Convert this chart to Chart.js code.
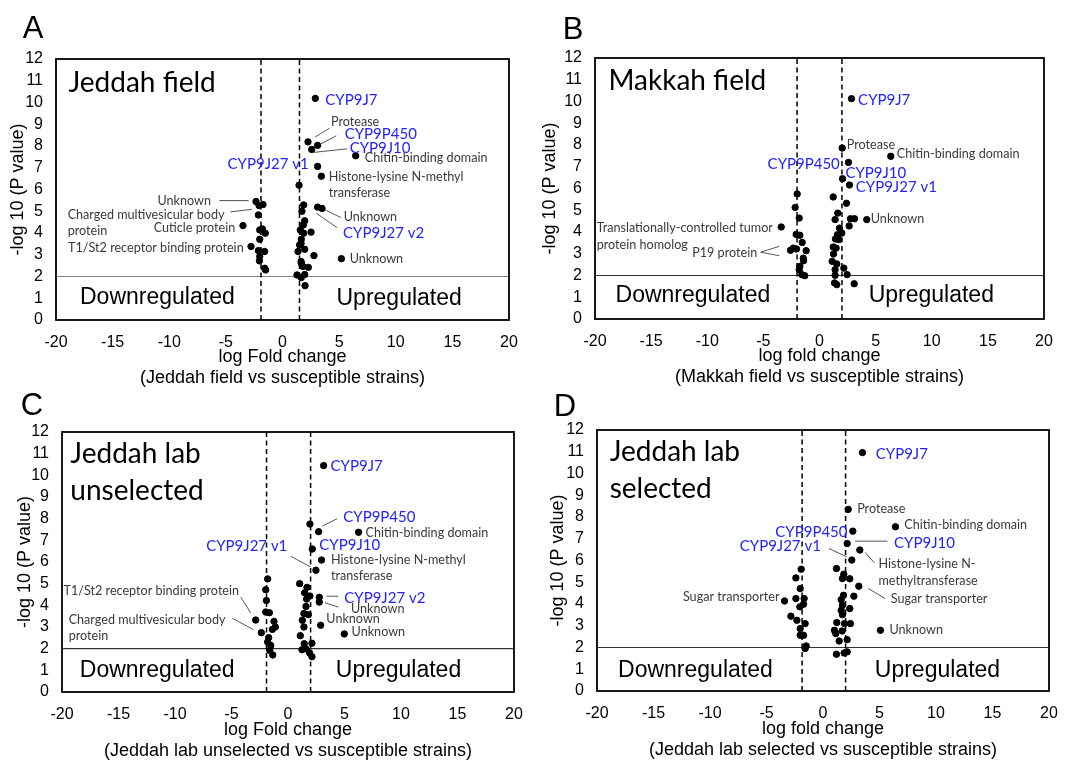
<!DOCTYPE html>
<html>
<head>
<meta charset="utf-8">
<script src="https://cdn.jsdelivr.net/npm/chart.js@4.4.1/dist/chart.umd.min.js"></script>
<style>
  body { margin: 0; background: #fff; width: 1084px; height: 762px; position: relative; overflow: hidden; }
  canvas { position: absolute; }
</style>
</head>
<body>
<canvas id="chartA" width="540" height="400" style="left:0px;top:0px"></canvas>
<canvas id="chartB" width="540" height="400" style="left:540px;top:0px"></canvas>
<canvas id="chartC" width="540" height="400" style="left:0px;top:362px"></canvas>
<canvas id="chartD" width="540" height="400" style="left:540px;top:362px"></canvas>
<script>
// [log fold change, -log10 p]
const jeddahFieldPoints = [
  [2.9, 10.19], [2.25, 8.19], [3.1, 8.03], [2.58, 7.84], [6.46, 7.55], [3.1, 7.06], [3.43, 6.61],
  [1.46, 6.2], [1.87, 5.29], [3.1, 5.19], [3.49, 5.13], [1.72, 5.0], [1.96, 4.56], [1.84, 4.37],
  [1.57, 4.14], [1.87, 3.99], [2.52, 4.04], [1.66, 3.71], [1.64, 3.53], [1.51, 3.45], [1.96, 3.25],
  [1.37, 3.15], [2.78, 2.96], [1.64, 2.69], [1.66, 2.61], [1.81, 2.46], [2.28, 2.42], [1.28, 2.07],
  [1.66, 1.95], [1.96, 2.09], [1.99, 1.58], [5.2, 2.82],
  [-2.34, 5.45], [-2.07, 5.26], [-1.72, 5.31], [-2.13, 4.83], [-3.49, 4.34], [-2.01, 4.14],
  [-1.78, 4.19], [-1.52, 3.99], [-2.01, 3.71], [-2.78, 3.38], [-2.13, 3.19], [-1.58, 3.15],
  [-2.01, 2.92], [-2.04, 2.72], [-1.58, 2.38], [-1.49, 2.3]
];
const makkahFieldPoints = [
  [2.85, 10.13], [2.02, 7.86], [6.35, 7.48], [2.58, 7.2], [2.05, 6.45], [2.67, 6.16], [1.22, 5.61],
  [2.4, 5.32], [1.63, 4.87], [1.39, 4.57], [2.76, 4.61], [3.12, 4.61], [4.21, 4.57], [2.64, 4.28],
  [1.78, 4.18], [1.99, 3.95], [1.6, 3.88], [1.42, 3.68], [1.72, 3.65], [1.22, 3.31], [1.48, 3.26],
  [1.25, 2.99], [1.13, 2.65], [1.54, 2.53], [2.17, 2.34], [1.39, 2.27], [2.46, 2.04], [1.39, 2.01],
  [1.34, 1.66], [1.54, 1.58], [3.09, 1.62],
  [-1.99, 5.75], [-2.17, 5.13], [-1.81, 4.64], [-3.41, 4.23], [-2.08, 3.89], [-1.75, 3.85],
  [-1.54, 3.52], [-2.34, 3.26], [-2.58, 3.16], [-2.05, 3.22], [-1.19, 3.14], [-1.45, 2.8],
  [-1.42, 2.68], [-1.75, 2.42], [-1.81, 2.27], [-1.57, 2.04], [-1.31, 1.99]
];
const labUnselectedPoints = [
  [3.15, 10.45], [1.94, 7.75], [2.71, 7.4], [6.24, 7.37], [2.15, 6.6], [2.97, 6.09], [2.47, 5.62],
  [1.03, 5.0], [1.68, 4.83], [1.47, 4.58], [1.94, 4.43], [1.65, 4.29], [2.77, 4.37], [2.77, 4.15],
  [1.59, 3.95], [1.41, 3.62], [1.8, 3.57], [1.27, 3.31], [1.41, 3.0], [2.89, 3.08], [4.98, 2.68],
  [1.09, 2.6], [1.44, 2.23], [2.12, 2.25], [1.24, 1.95], [1.59, 1.99], [1.91, 1.8], [2.12, 1.63],
  [-1.8, 5.22], [-1.97, 4.72], [-1.91, 4.22], [-1.97, 3.69], [-1.65, 3.66], [-2.86, 3.32],
  [-1.24, 3.26], [-1.12, 3.0], [-1.38, 2.89], [-2.36, 2.74], [-1.71, 2.51], [-1.8, 2.31],
  [-1.53, 2.15], [-1.62, 1.92], [-1.35, 1.71]
];
const labSelectedPoints = [
  [3.49, 10.96], [2.23, 8.35], [6.41, 7.55], [2.64, 7.35], [2.14, 6.78], [3.26, 6.48], [2.55, 6.02],
  [1.19, 5.63], [1.84, 5.37], [1.72, 5.17], [2.37, 5.16], [3.17, 4.82], [1.81, 4.4], [2.73, 4.36],
  [1.61, 4.2], [1.72, 3.94], [2.37, 3.79], [1.61, 3.71], [1.72, 3.51], [1.22, 3.15], [1.9, 3.1],
  [2.43, 3.1], [1.01, 2.79], [1.69, 2.76], [1.13, 2.64], [1.43, 2.3], [2.14, 2.36], [1.87, 1.75],
  [2.14, 1.8], [1.19, 1.69], [5.08, 2.79],
  [-1.93, 5.6], [-2.4, 5.2], [-2.02, 4.71], [-3.4, 4.14], [-2.4, 4.25], [-1.67, 4.25],
  [-2.05, 3.87], [-1.72, 3.99], [-2.84, 3.44], [-2.31, 3.25], [-1.58, 3.1], [-2.02, 2.87],
  [-2.02, 2.56], [-1.72, 2.56], [-1.49, 2.07], [-1.58, 1.95]
];

// fold change cut-offs (dashed) and p cut-off (solid)
const jeddahFieldCutoffs = [-1.9, 1.5];
const makkahFieldCutoffs = [-2, 2];
const labUnselectedCutoffs = [-1.9, 2];
const labSelectedCutoffs = [-1.85, 2];
const pCutoff = 2;

// [text, fold change, -log10 p, kind, align]
const jeddahFieldLabels = [
  ['Jeddah field', -18.9, 10.9, 'title'],
  ['Downregulated', -11.05, 1.03, 'region', 'center'],
  ['Upregulated', 10.3, 1.0, 'region', 'center'],
  ['CYP9J7', 3.78, 10.13, 'gene'],
  ['Protease', 4.28, 9.11, 'note'],
  ['CYP9P450', 5.49, 8.53, 'gene'],
  ['CYP9J10', 5.93, 7.92, 'gene'],
  ['Chitin-binding domain', 7.26, 7.43, 'note'],
  ['CYP9J27 v1', 2.31, 7.15, 'gene', 'right'],
  ['Histone-lysine N-methyl', 4.08, 6.57, 'note'],
  ['transferase', 4.08, 5.83, 'note'],
  ['Unknown', -6.32, 5.49, 'note', 'right'],
  ['Charged multivesicular body', -18.97, 4.85, 'note'],
  ['protein', -18.97, 4.1, 'note'],
  ['Cuticle protein', -4.17, 4.25, 'note', 'right'],
  ['T1/St2 receptor binding protein', -3.43, 3.3, 'note', 'right'],
  ['Unknown', 5.4, 4.74, 'note'],
  ['CYP9J27 v2', 5.35, 3.99, 'gene'],
  ['Unknown', 5.93, 2.82, 'note']
];
const makkahFieldLabels = [
  ['Makkah field', -18.8, 10.93, 'title'],
  ['Downregulated', -11.28, 1.07, 'region', 'center'],
  ['Upregulated', 9.96, 1.07, 'region', 'center'],
  ['CYP9J7', 3.44, 10.08, 'gene'],
  ['Protease', 2.43, 8.02, 'note'],
  ['Chitin-binding domain', 6.88, 7.6, 'note'],
  ['CYP9P450', 1.81, 7.14, 'gene', 'right'],
  ['CYP9J10', 2.31, 6.71, 'gene'],
  ['CYP9J27 v1', 3.23, 6.07, 'gene'],
  ['Unknown', 4.57, 4.6, 'note'],
  ['Translationally-controlled tumor', -19.85, 4.18, 'note'],
  ['protein homolog', -19.85, 3.42, 'note'],
  ['P19 protein', -5.55, 3.05, 'note', 'right']
];
const labUnselectedLabels = [
  ['Jeddah lab', -19.26, 10.97, 'title'],
  ['unselected', -19.26, 9.28, 'title'],
  ['Downregulated', -11.58, 1.0, 'region', 'center'],
  ['Upregulated', 9.78, 1.0, 'region', 'center'],
  ['CYP9J7', 3.77, 10.42, 'gene'],
  ['CYP9P450', 4.89, 8.06, 'gene'],
  ['Chitin-binding domain', 6.86, 7.35, 'note'],
  ['CYP9J10', 2.77, 6.8, 'gene'],
  ['CYP9J27 v1', -0.06, 6.74, 'gene', 'right'],
  ['Histone-lysine N-methyl', 3.8, 6.08, 'note'],
  ['transferase', 3.8, 5.34, 'note'],
  ['T1/St2 receptor binding protein', -4.33, 4.66, 'note', 'right'],
  ['Charged multivesicular body', -19.41, 3.34, 'note'],
  ['protein', -19.41, 2.6, 'note'],
  ['CYP9J27 v2', 4.98, 4.35, 'gene'],
  ['Unknown', 5.57, 3.83, 'note'],
  ['Unknown', 3.39, 3.35, 'note'],
  ['Unknown', 5.63, 2.77, 'note']
];
const labSelectedLabels = [
  ['Jeddah lab', -18.88, 10.97, 'title'],
  ['selected', -18.88, 9.28, 'title'],
  ['Downregulated', -11.29, 0.95, 'region', 'center'],
  ['Upregulated', 10.13, 0.95, 'region', 'center'],
  ['CYP9J7', 4.67, 10.89, 'gene'],
  ['Protease', 3.02, 8.36, 'note'],
  ['Chitin-binding domain', 7.2, 7.63, 'note'],
  ['CYP9P450', 2.17, 7.32, 'gene', 'right'],
  ['CYP9J27 v1', -0.19, 6.67, 'gene', 'right'],
  ['CYP9J10', 6.29, 6.81, 'gene'],
  ['Histone-lysine N-', 4.91, 5.82, 'note'],
  ['methyltransferase', 4.91, 5.05, 'note'],
  ['Sugar transporter', 6.0, 4.22, 'note'],
  ['Sugar transporter', -3.85, 4.33, 'note', 'right'],
  ['Unknown', 5.88, 2.79, 'note']
];

// leader lines [fc1, p1, fc2, p2]
const jeddahFieldLeaders = [
  [2.87, 8.41, 4.16, 8.82], [3.4, 8.1, 4.75, 8.47], [2.66, 7.7, 5.7, 7.87],
  [-5.58, 5.49, -2.99, 5.49], [-4.6, 4.97, -2.7, 5.09], [3.78, 5.06, 5.16, 4.71], [2.99, 4.91, 4.81, 4.25]
];
const makkahFieldLeaders = [[-5.25, 3.07, -3.59, 3.34], [-5.25, 3.07, -3.59, 2.91]];
const labUnselectedLeaders = [
  [3.06, 7.66, 4.36, 8.0], [0.27, 6.26, 2.0, 5.77], [-4.18, 4.38, -3.3, 3.65],
  [-4.92, 3.4, -3.06, 2.88], [3.42, 4.42, 4.45, 4.42], [3.27, 4.12, 4.45, 3.92]
];
const labSelectedLeaders = [
  [0.52, 6.55, 2.11, 6.17], [2.84, 6.89, 5.7, 6.89], [3.73, 6.37, 4.55, 5.89], [4.02, 4.71, 5.5, 4.25]
];

const labelFonts = {
  title: { font: '28px Lato', color: '#000' },
  region: { font: '23px "Liberation Sans"', color: '#000' },
  gene: { font: '15px Lato', color: '#2222ff' },
  note: { font: '12.6px Lato', color: '#3a3a3a' }
};

const overlay = (extra) => ({
  id: 'overlay' + extra.letter,
  afterDatasetsDraw(chart) {
    const { ctx, chartArea: a, scales: { x, y } } = chart;
    ctx.save();
    ctx.strokeStyle = '#000';
    ctx.lineWidth = 1.8;
    ctx.strokeRect(a.left, a.top, a.right - a.left, a.bottom - a.top);

    ctx.strokeStyle = '#555';
    ctx.lineWidth = 1;
    extra.leaders.forEach(([x1, y1, x2, y2]) => {
      ctx.beginPath();
      ctx.moveTo(x.getPixelForValue(x1), y.getPixelForValue(y1));
      ctx.lineTo(x.getPixelForValue(x2), y.getPixelForValue(y2));
      ctx.stroke();
    });

    ctx.textBaseline = 'middle';
    extra.labels.forEach(([text, lx, ly, kind, align]) => {
      ctx.font = labelFonts[kind].font;
      ctx.fillStyle = labelFonts[kind].color;
      ctx.textAlign = align || 'left';
      ctx.fillText(text, x.getPixelForValue(lx), y.getPixelForValue(ly));
    });

    ctx.font = '31px "Liberation Sans"';
    ctx.fillStyle = '#000';
    ctx.textAlign = 'center';
    ctx.fillText(extra.letter, extra.letterPos[0], extra.letterPos[1]);
    ctx.restore();
  }
});

const axisFont = { family: 'Liberation Sans', size: 16 };
const titleFont = { family: 'Liberation Sans', size: 18, lineHeight: 1.15 };

const volcano = (id, points, cutoffs, labels, leaders, xTitle, box, extra) => {
  const ctx = document.getElementById(id);
  const datasets = [{
    data: points.map(([x, y]) => ({ x, y })),
    backgroundColor: '#000',
    borderColor: '#000',
    pointRadius: 3.2,
    pointHoverRadius: 3.2
  }];
  cutoffs.forEach(c => datasets.push({
    data: [{ x: c, y: 0 }, { x: c, y: 12 }],
    showLine: true,
    borderColor: '#000',
    borderWidth: 1.5,
    borderDash: [5, 3.5],
    pointRadius: 0
  }));
  datasets.push({
    data: [{ x: -20, y: pCutoff }, { x: 20, y: pCutoff }],
    showLine: true,
    borderColor: box.pLineColor,
    borderWidth: 1.2,
    pointRadius: 0
  });

  new Chart(ctx, {
    type: 'scatter',
    data: { datasets },
    options: {
      responsive: false,
      animation: false,
      layout: { padding: { left: 0, top: box.top, right: 540 - box.right, bottom: 400 - box.axisBottom } },
      plugins: { legend: { display: false }, tooltip: { enabled: false } },
      scales: {
        x: {
          type: 'linear', min: -20, max: 20,
          ticks: { stepSize: 5, padding: 13, autoSkip: false, maxRotation: 0, color: '#000', font: axisFont },
          grid: { display: false, drawTicks: false },
          border: { display: false },
          title: { display: true, text: xTitle, color: '#000', font: titleFont, padding: 0 },
          afterFit: s => { s.height = box.axisBottom - box.bottom; }
        },
        y: {
          min: 0, max: 12,
          ticks: { stepSize: 1, padding: 13, autoSkip: false, color: '#000', font: axisFont },
          grid: { display: false, drawTicks: false },
          border: { display: false },
          title: { display: true, text: '-log 10 (P value)', color: '#000', font: titleFont, padding: { top: box.yTitlePad, bottom: 0 } },
          afterFit: s => { s.width = box.left; }
        }
      }
    },
    plugins: [overlay({ labels, leaders, letter: extra.letter, letterPos: extra.letterPos })]
  });
};

volcano('chartA', jeddahFieldPoints, jeddahFieldCutoffs, jeddahFieldLabels, jeddahFieldLeaders,
  ['log Fold change', '(Jeddah field vs susceptible strains)'],
  { left: 56, top: 59, right: 509, bottom: 320, axisBottom: 388, yTitlePad: 8, pLineColor: '#808080' },
  { letter: 'A', letterPos: [33, 29] });
volcano('chartB', makkahFieldPoints, makkahFieldCutoffs, makkahFieldLabels, makkahFieldLeaders,
  ['log fold change', '(Makkah field vs susceptible strains)'],
  { left: 55, top: 58, right: 504, bottom: 319, axisBottom: 387, yTitlePad: 0, pLineColor: '#333' },
  { letter: 'B', letterPos: [33, 30] });
volcano('chartC', labUnselectedPoints, labUnselectedCutoffs, labUnselectedLabels, labUnselectedLeaders,
  ['log Fold change', '(Jeddah lab unselected vs susceptible strains)'],
  { left: 62, top: 70, right: 514, bottom: 330, axisBottom: 399, yTitlePad: 15, pLineColor: '#333' },
  { letter: 'C', letterPos: [32, 44] });
volcano('chartD', labSelectedPoints, labSelectedCutoffs, labSelectedLabels, labSelectedLeaders,
  ['log fold change', '(Jeddah lab selected vs susceptible strains)'],
  { left: 57, top: 68, right: 509, bottom: 329, axisBottom: 398, yTitlePad: 8, pLineColor: '#333' },
  { letter: 'D', letterPos: [25, 45] });
</script>
</body>
</html>
